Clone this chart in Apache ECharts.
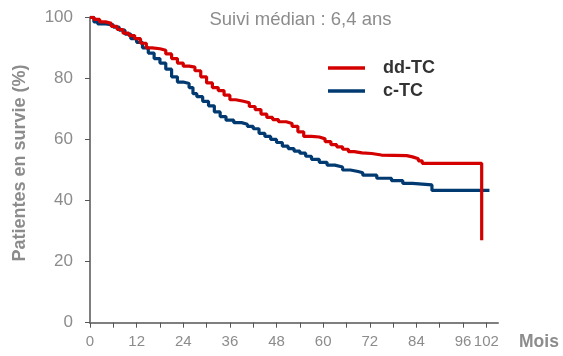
<!DOCTYPE html>
<html><head><meta charset="utf-8">
<script src="https://cdn.jsdelivr.net/npm/echarts@6/dist/echarts.min.js"></script>
<style>html,body{margin:0;padding:0;background:#fff}#c{width:563px;height:356px}</style>
</head><body><div id="c"></div>
<script>
// Kaplan-Meier steps: [month, survival %] (value after each drop)
const ddTC = [[0,100],[1,99.3],[2.5,98.5],[4,98],[5.5,97],[7,96],[8.5,94.8],[10,94],[11.5,93],[13,91.5],[14.5,90],[16,89.7],[18,89.2],[19.5,88],[21,86.5],[22.5,85],[24,84],[25.5,83.7],[27,82.5],[28.5,80.5],[30,78.5],[31.5,77],[33,76],[34.5,74.5],[36,73],[37.5,72.5],[39.5,72],[41,70.8],[42.5,69.8],[44,68.3],[45.5,67.2],[47,66.5],[48.5,65.8],[50.5,65.2],[52,64.3],[53.5,62.5],[55,61],[57,60.8],[59,60.2],[60.5,59.3],[62,58.3],[63.5,57.6],[65,56.8],[66.5,56],[68,55.6],[70,55.4],[72.5,54.9],[75,54.7],[81.5,54.3],[83,53.7],[84.5,53],[85.5,52.2],[100.8,52.2],[100.8,27]];
const cTC = [[0,100],[1,98.5],[2,97.8],[4,97.5],[6,96.8],[7.5,95.8],[9,94.5],[10.5,93],[12,91.8],[13.5,90],[15,88.3],[16.5,86.5],[18,85],[19.5,83],[21,80.5],[22.5,78.8],[24,78.3],[25.5,77],[26.5,75],[27.5,74],[29,72.5],[30.5,71],[32,69],[33.5,67.5],[35,66.3],[37,65.5],[39,65],[40.5,64.3],[42,63.5],[43.5,62],[45,61],[46.5,60],[48,59],[49.5,57.8],[51,57],[52.5,56.2],[54,55.5],[55.5,54.5],[57,53.5],[59,52.5],[61,51.6],[63,51],[65,50],[67,49.5],[69,49.1],[70.2,48.3],[73.8,47.3],[77.6,46.5],[80.5,45.6],[83,45.1],[88,43.3],[102.8,43.3]];
const xTicks = [0,6,12,18,24,30,36,42,48,54,60,66,72,78,84,90,96,102];
const xLabels = [0,12,24,36,48,60,72,84,96,102];
const yTicks = [0,20,40,60,80,100];
const seriesNames = ['dd-TC','c-TC'];
const titleText = 'Suivi médian : 6,4 ans';
const yName = 'Patientes en survie (%)';
const xName = 'Mois';

const FONT = '"Liberation Sans", Arial, sans-serif';
const GREY = '#8c8c8c';
const chart = echarts.init(document.getElementById('c'), null, {renderer:'canvas'});
chart.setOption({
  animation:false,
  grid:{left:90,right:65,top:17.3,bottom:33.3,containLabel:false,outerBoundsMode:'none'},
  graphic:[
    {type:'text',x:300.5,y:20,style:{text:titleText,fontFamily:FONT,fontSize:18.5,fontWeight:'normal',fill:GREY,align:'center',verticalAlign:'middle'}},
    {type:'text',x:519,y:342,style:{text:xName,fontFamily:FONT,fontSize:17.5,fontWeight:'bold',fill:GREY,align:'left',verticalAlign:'middle'}},
    {type:'text',x:20,y:163,rotation:Math.PI/2,style:{text:yName,fontFamily:FONT,fontSize:18,fontWeight:'bold',fill:GREY,align:'center',verticalAlign:'middle'}}
  ],
  legend:{orient:'vertical',left:328,top:58,padding:0,itemGap:3,itemWidth:37,itemHeight:3.5,icon:'rect',
    data:seriesNames,
    textStyle:{fontFamily:FONT,fontSize:18,fontWeight:'bold',color:'#333',lineHeight:20,padding:[0,0,0,13]}},
  xAxis:{type:'value',min:0,max:105,
    axisLine:{lineStyle:{color:'#7f7f7f',width:2}},
    axisTick:{show:true,length:5,customValues:xTicks,lineStyle:{color:'#555',width:1}},
    axisLabel:{customValues:xLabels,margin:12,fontFamily:FONT,fontSize:15,color:GREY},
    splitLine:{show:false}},
  yAxis:{type:'value',min:0,max:100,interval:20,
    axisLine:{show:true,lineStyle:{color:'#7f7f7f',width:2}},
    axisTick:{show:true,length:5,customValues:yTicks,lineStyle:{color:'#555',width:1}},
    axisLabel:{customValues:yTicks,margin:17,fontFamily:FONT,fontSize:17,color:GREY},
    splitLine:{show:false}},
  series:[
    {name:seriesNames[0],type:'line',step:'end',data:ddTC,showSymbol:false,symbol:'none',color:'#d40000',lineStyle:{width:3.2,color:'#d40000'},z:3},
    {name:seriesNames[1],type:'line',step:'end',data:cTC,showSymbol:false,symbol:'none',color:'#003a70',lineStyle:{width:3.2,color:'#003a70'},z:2}
  ]
});
</script></body></html>
